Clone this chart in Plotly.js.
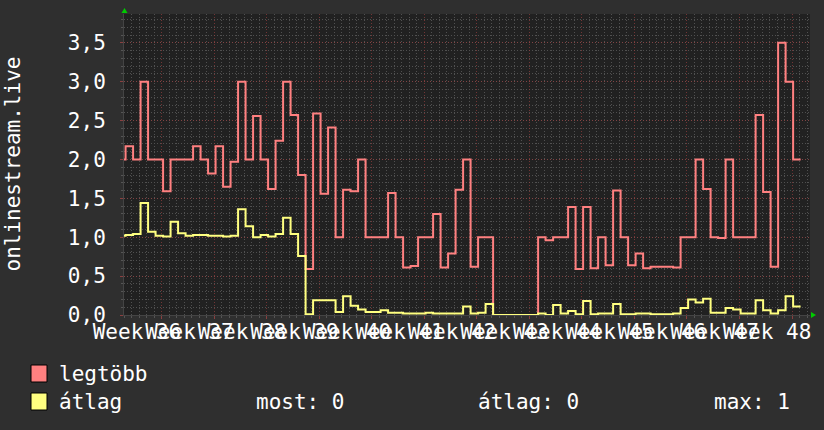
<!DOCTYPE html>
<html>
<head>
<meta charset="utf-8">
<script src="https://cdn.plot.ly/plotly-3.0.1.min.js"></script>
<style>html,body{margin:0;padding:0;background:#2f2f2f;}</style>
</head>
<body>
<div id="chart" style="width:824px;height:430px;"></div>
<script>
// ---- data (daily steps, first value is the day before the visible range) ----
const firstDay = -1;
const maxValues = [2.0,
  2.17,2.0,3.0,2.0,2.0,1.59,2.0,2.0,2.0,2.17,
  2.0,1.82,2.17,1.65,1.97,3.0,2.0,2.56,2.0,1.62,
  2.24,3.0,2.57,1.80,0.59,2.59,1.56,2.41,1.0,1.61,
  1.59,2.0,1.0,1.0,1.0,1.57,1.0,0.61,0.63,1.0,
  1.0,1.3,0.61,0.79,1.61,2.0,0.62,1.0,1.0,0,
  0,0,0,0,0,1.0,0.96,1.0,1.0,1.39,
  0.59,1.39,0.6,1.0,0.64,1.6,1.0,0.64,0.79,0.6,
  0.62,0.62,0.62,0.61,1.0,1.0,2.0,1.62,1.0,0.99,
  2.0,1.0,1.0,1.0,2.57,1.58,0.62,3.5,3.0,2.0];
const avgValues = [1.02,
  1.03,1.04,1.44,1.07,1.02,1.01,1.20,1.05,1.02,1.03,
  1.03,1.02,1.02,1.01,1.02,1.36,1.14,1.0,1.03,1.01,
  1.04,1.25,1.04,0.76,0.01,0.19,0.19,0.19,0.04,0.24,
  0.12,0.07,0.04,0.04,0.06,0.03,0.03,0.02,0.02,0.02,
  0.03,0.02,0.02,0.02,0.02,0.11,0.02,0.03,0.14,0,
  0,0,0,0,0,0.02,0.0,0.13,0.02,0.05,
  0.01,0.18,0.01,0.02,0.02,0.14,0.01,0.01,0.02,0.02,
  0.01,0.01,0.01,0.02,0.09,0.2,0.16,0.21,0.03,0.03,
  0.09,0.07,0.02,0.02,0.19,0.06,0.02,0.06,0.24,0.11];
const weekLabels = ["Week 36","Week 37","Week 38","Week 39","Week 40","Week 41","Week 42",
  "Week 43","Week 44","Week 45","Week 46","Week 47","Week 48"];
const yTickVals = [0,0.5,1,1.5,2,2.5,3,3.5];
const yTickText = ["0,0","0,5","1,0","1,5","2,0","2,5","3,0","3,5"];
const seriesNames = ["legtöbb","átlag"];
const statLabels = ["most: 0","átlag: 0","max: 1"];
const yAxisTitle = "onlinestream.live";

// ---- styles ----
const FONT = "DejaVu Sans Mono, monospace";
const FS = 21;
const RED = "#ff8080", YEL = "#ffff80";
const weekStart = 4.85;      // first week gridline (days)
const labelStart = 1.52;     // first label centre (days)

function stepXY(vals){
  const x = vals.map((_,i)=>firstDay+i);
  x.push(firstDay+vals.length);
  const y = vals.slice(); y.push(vals[vals.length-1]);
  return {x,y};
}
const r = stepXY(maxValues), a = stepXY(avgValues);

const traces = [
  {x:r.x, y:r.y, type:"scatter", mode:"lines", line:{shape:"hv", color:RED, width:2}, name:seriesNames[0], hoverinfo:"skip", xaxis:"x"},
  {x:a.x, y:a.y, type:"scatter", mode:"lines", line:{shape:"hv", color:YEL, width:2}, name:seriesNames[1], hoverinfo:"skip", xaxis:"x2"}
];

const L=124, R=810, T=14, B=315;
const PW=R-L, PH=B-T;
const px2x = p => (p-L)/PW;
const px2y = p => (B-p)/PH;

const GRIDMAJ = "rgba(150,62,62,0.7)";
const GRIDMIN = "#505050";
const xrange=[-0.21, 91.25];
const layout = {
  width:824, height:430,
  margin:{l:L, r:824-R, t:T, b:430-B, pad:0},
  paper_bgcolor:"#2f2f2f", plot_bgcolor:"#212121",
  showlegend:false,
  font:{family:FONT, size:FS, color:"#ffffff"},
  xaxis:{
    range:xrange, showticklabels:false, zeroline:false,
    tickmode:"linear", tick0:weekStart, dtick:7,
    showgrid:true, gridcolor:GRIDMAJ, griddash:"1px,2px", gridwidth:1,
    ticks:"outside", ticklen:3, tickcolor:"#8a4040",
    showline:true, linecolor:"#444444", linewidth:1,
    minor:{tick0:weekStart, dtick:1, showgrid:true, gridcolor:GRIDMIN, griddash:"1px,2px", gridwidth:1, ticks:"outside", ticklen:2, tickcolor:"#555555"}
  },
  xaxis2:{
    overlaying:"x", anchor:"y", side:"bottom", range:xrange,
    tickmode:"array", tickvals:weekLabels.map((_,k)=>labelStart+7*k), ticktext:weekLabels,
    tickangle:0, showgrid:false, zeroline:false, ticks:"", showline:false,
    tickfont:{family:FONT, size:FS, color:"#ffffff"}, ticklabelstandoff:2
  },
  yaxis:{
    range:[0,3.87], zeroline:false,
    tickmode:"array", tickvals:yTickVals, ticktext:yTickText,
    showgrid:true, gridcolor:GRIDMAJ, griddash:"1px,2px", gridwidth:1,
    ticks:"outside", ticklen:3, tickcolor:"#8a4040", ticklabelstandoff:10,
    showline:true, linecolor:"#444444", linewidth:1,
    tickfont:{family:FONT, size:FS, color:"#ffffff"},
    minor:{dtick:0.1, tick0:0, showgrid:true, gridcolor:GRIDMIN, griddash:"1px,2px", gridwidth:1, ticks:"outside", ticklen:2, tickcolor:"#555555"}
  },
  shapes:[
    {type:"path", xref:"paper", yref:"paper", xsizemode:"pixel", ysizemode:"pixel", xanchor:px2x(124.5), yanchor:1,
     path:"M -3 1 L 3 1 L 0 6 Z", fillcolor:"#00cc00", line:{width:0}},
    {type:"path", xref:"paper", yref:"paper", xsizemode:"pixel", ysizemode:"pixel", xanchor:1, yanchor:0,
     path:"M 1 -3 L 1 3 L 6 0 Z", fillcolor:"#00cc00", line:{width:0}},
    {type:"rect", xref:"paper", yref:"paper", xsizemode:"pixel", ysizemode:"pixel", xanchor:px2x(31), yanchor:px2y(373.5),
     x0:0, x1:16, y0:-8.5, y1:8.5, fillcolor:RED, line:{color:"#000000", width:1}},
    {type:"rect", xref:"paper", yref:"paper", xsizemode:"pixel", ysizemode:"pixel", xanchor:px2x(31), yanchor:px2y(401.5),
     x0:0, x1:16, y0:-8.5, y1:8.5, fillcolor:YEL, line:{color:"#000000", width:1}}
  ],
  annotations:[
    {text:yAxisTitle, textangle:-90, xref:"paper", yref:"paper", x:px2x(12), y:0.5, xanchor:"center", yanchor:"middle", showarrow:false, font:{family:FONT,size:FS,color:"#ffffff"}},
    {text:seriesNames[0], xref:"paper", yref:"paper", x:px2x(57), y:px2y(373.5), xanchor:"left", yanchor:"middle", showarrow:false},
    {text:seriesNames[1], xref:"paper", yref:"paper", x:px2x(57), y:px2y(401.5), xanchor:"left", yanchor:"middle", showarrow:false},
    {text:statLabels[0], xref:"paper", yref:"paper", x:px2x(254), y:px2y(401.5), xanchor:"left", yanchor:"middle", showarrow:false},
    {text:statLabels[1], xref:"paper", yref:"paper", x:px2x(476), y:px2y(401.5), xanchor:"left", yanchor:"middle", showarrow:false},
    {text:statLabels[2], xref:"paper", yref:"paper", x:px2x(712), y:px2y(401.5), xanchor:"left", yanchor:"middle", showarrow:false}
  ]
};

Plotly.newPlot("chart", traces, layout, {staticPlot:true, displayModeBar:false});
</script>
</body>
</html>
